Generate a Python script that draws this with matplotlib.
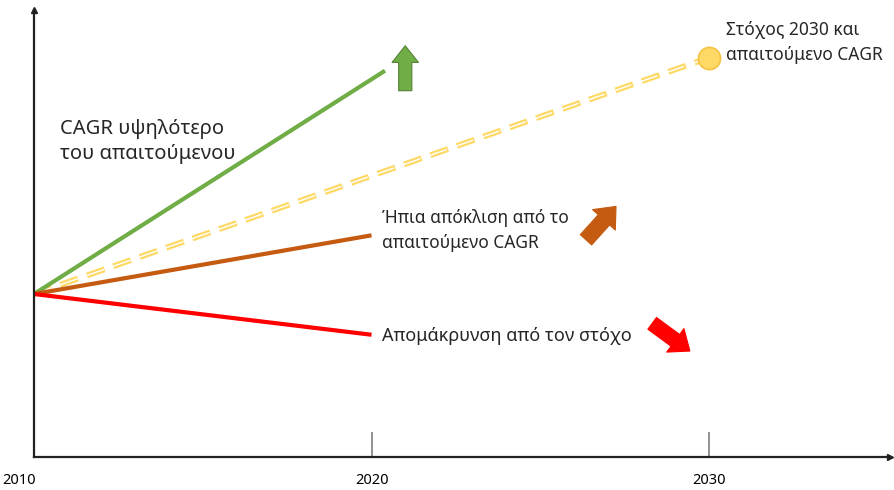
import matplotlib
matplotlib.use("Agg")
import matplotlib.pyplot as plt
from matplotlib.patches import FancyArrowPatch

plt.rcParams['font.family'] = ['Noto Sans', 'DejaVu Sans']

# Index of the indicator (2010 = 100) for each scenario
start_year = 2010
start_value = 100
green_end = (2020.4, 237)    # CAGR above the required one
target = (2030, 245)         # 2030 target / required CAGR
orange_end = (2020, 136)     # mild deviation
red_end = (2020, 75)         # moving away from the target

year_ticks = [2010, 2020, 2030]

# Trend indicator arrows: (from, to, face, edge, style)
trend_arrows = [
    ((2021.0, 223), (2021.0, 254), '#70AD47', '#548235',
     'simple,head_width=19,head_length=12,tail_width=9.5'),
    ((2026.3, 132), (2027.3, 155), '#C55A11', '#C55A11',
     'simple,head_width=22,head_length=13,tail_width=11'),
    ((2028.25, 83), (2029.5, 64), '#FF0000', '#FF0000',
     'simple,head_width=21,head_length=13,tail_width=10.5'),
]

fig = plt.figure(figsize=(8.95, 4.9), dpi=100)
ax = fig.add_axes([34 / 895, 33 / 490, (890 - 34) / 895, (457 - 10) / 490])
ax.set_xlim(2010, 2010 + (890 - 34) / 33.75)
ax.set_ylim(0, 447 * 0.6135)

for side in ['top', 'right']:
    ax.spines[side].set_visible(False)
for side in ['left', 'bottom']:
    ax.spines[side].set_linewidth(1.6)
    ax.spines[side].set_color('#222222')
ax.set_yticks([])
ax.set_xticks(year_ticks[1:])
ax.set_xticklabels([])
ax.tick_params(axis='x', direction='in', length=18, width=1.2, color='#7f7f7f')

# axis arrowheads
ax.plot(1, 0, '>', color='#222222', ms=5, transform=ax.transAxes, clip_on=False)
ax.plot(0, 1, '^', color='#222222', ms=5, transform=ax.transAxes, clip_on=False)

# year labels below the axis
for yr in year_ticks:
    xpos = yr - 0.45 if yr == start_year else yr
    ax.text(xpos, -14.5, str(yr), ha='center', va='center',
            fontsize=10.5, color='#000000', clip_on=False)

# scenario lines
ax.plot([start_year, target[0]], [start_value, target[1]], color='#FFD966', lw=4.2,
        dashes=(3.2, 1.6), dash_capstyle='butt')
ax.plot([start_year, target[0]], [start_value, target[1]], color='white', lw=1.0,
        dashes=(13.4, 6.7), dash_capstyle='butt')
ax.plot([start_year, green_end[0]], [start_value, green_end[1]], color='#70AD47', lw=3,
        solid_capstyle='butt')
ax.plot([start_year, orange_end[0]], [start_value, orange_end[1]], color='#C55A11', lw=3,
        solid_capstyle='butt')
ax.plot([start_year, red_end[0]], [start_value, red_end[1]], color='#FF0000', lw=3,
        solid_capstyle='butt')
ax.plot(*target, 'o', ms=16, color='#FFD966', mec='#F5C242', mew=1.2, zorder=5)

for (p0, p1, fc, ec, style) in trend_arrows:
    arr = FancyArrowPatch(p0, p1, arrowstyle=style, mutation_scale=1,
                          fc=fc, ec=ec, lw=0.8, zorder=6)
    ax.add_patch(arr)

txt = dict(color='#262626', va='center', ha='left')
ax.text(2010.77, 193.5, 'CAGR υψηλότερο\nτου απαιτούμενου', fontsize=14.5,
        linespacing=1.33, **txt)
ax.text(2020.3, 138.7, 'Ήπια απόκλιση από το\nαπαιτούμενο CAGR', fontsize=12.5,
        linespacing=1.5, **txt)
ax.text(2020.3, 74, 'Απομάκρυνση από τον στόχο', fontsize=13, **txt)
ax.text(2030.5, 254, 'Στόχος 2030 και\nαπαιτούμενο CAGR', fontsize=12.5,
        linespacing=1.5, **txt)

fig.savefig('out.png', dpi=100)
